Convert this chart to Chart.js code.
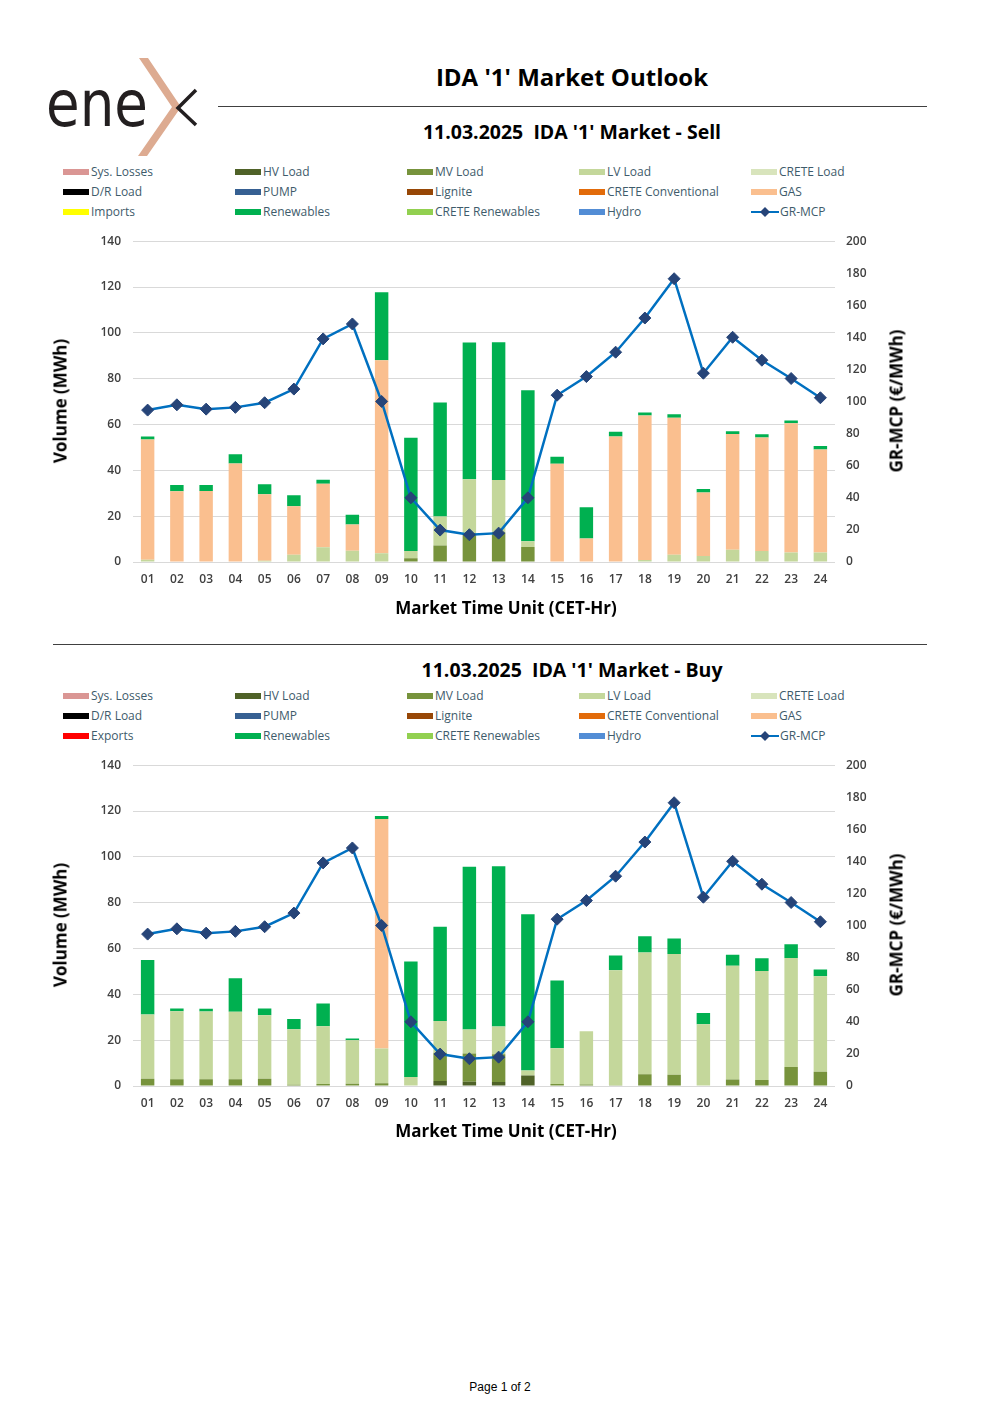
<!DOCTYPE html>
<html>
<head>
<meta charset="utf-8">
<script src="https://cdn.jsdelivr.net/npm/chart.js@4.4.1/dist/chart.umd.min.js"></script>
<style>
  body { margin: 0; width: 1000px; height: 1415px; background: #fff; position: relative; font-family: "Open Sans", "DejaVu Sans", sans-serif; }
  .abs { position: absolute; }
  .title { font-weight: bold; color: #000; white-space: nowrap; transform: translate(-50%, -50%); }
  .rule { position: absolute; height: 0; border-top: 1.5px solid #404040; }
  .ytitle { position: absolute; font-weight: bold; font-size: 17px; white-space: nowrap; transform: translate(-50%, -50%) rotate(-90deg); }
  .leg { position: absolute; font-size: 12px; color: #3E5B6B; white-space: nowrap; line-height: 14px; }
  .sw { display: inline-block; width: 26px; height: 6px; vertical-align: middle; margin-right: 2px; margin-top: -2px; }
  canvas { position: absolute; }
</style>
</head>
<body>

<svg class="abs" style="left:0;top:0" width="220" height="170">
  <text x="46" y="126" font-family="DejaVu Sans ExtraLight, DejaVu Sans" font-size="64" fill="#231F20" textLength="102" lengthAdjust="spacingAndGlyphs">ene</text>
  <polygon points="139,58 148,58 181,107 147,156 138,156 172,107" fill="#DDAB91"/>
  <polyline points="196,90 178,108 196,125" fill="none" stroke="#231F20" stroke-width="3.5"/>
</svg>

<div class="abs title" style="left:572px;top:76px;font-size:24px">IDA '1' Market Outlook</div>
<div class="rule" style="left:218px;top:106px;width:709px"></div>
<div class="abs title" style="left:572px;top:131px;font-size:19.5px">11.03.2025&nbsp; IDA '1' Market - Sell</div>

<div id="legSell"></div>
<canvas id="sellChart" width="880" height="398" style="left:40px;top:222px"></canvas>
<div class="ytitle" style="left:60px;top:401px">Volume (MWh)</div>
<div class="ytitle" style="left:896px;top:401px">GR-MCP (€/MWh)</div>
<div class="abs title" style="left:506px;top:607px;font-size:17px">Market Time Unit (CET-Hr)</div>

<div class="rule" style="left:53px;top:644px;width:874px"></div>

<div class="abs title" style="left:572px;top:669px;font-size:19.5px">11.03.2025&nbsp; IDA '1' Market - Buy</div>
<div id="legBuy"></div>
<canvas id="buyChart" width="880" height="398" style="left:40px;top:746px"></canvas>
<div class="ytitle" style="left:60px;top:925px">Volume (MWh)</div>
<div class="ytitle" style="left:896px;top:925px">GR-MCP (€/MWh)</div>
<div class="abs title" style="left:506px;top:1130px;font-size:17px">Market Time Unit (CET-Hr)</div>

<div class="abs" style="left:500px;top:1387px;transform:translate(-50%,-50%);font-family:'Liberation Sans',Arial,sans-serif;font-size:12px">Page 1 of 2</div>

<script>
var hours = ['01','02','03','04','05','06','07','08','09','10','11','12','13','14','15','16','17','18','19','20','21','22','23','24'];

// GR-MCP (€/MWh), same for both charts
var mcp = [94.7, 98.0, 95.3, 96.4, 99.3, 107.8, 139.1, 148.4, 100.1, 40.0, 19.9, 17.0, 18.0, 40.0, 104.0, 115.6, 130.8, 152.1, 176.6, 117.7, 140.1, 125.8, 114.4, 102.4];

// Sell side (MWh)
var sellHV  = [0,0,0,0,0,0,0,0,0,0,0,0,0,0,0,0,0,0,0,0,0,0,0,0];
var sellMV  = [0,0,0,0,0,0,0,0,0,1.6,7.2,12.5,13.0,6.5,0,0,0,0,0,0,0,0,0,0];
var sellLV  = [1.0,0,0,0,0.6,3.2,6.4,4.9,3.8,3.2,12.7,23.6,22.8,2.6,0,0,0,0.9,3.2,2.6,5.4,4.8,4.1,4.1];
var sellGAS = [52.5,30.9,31.0,43.0,29.0,21.1,27.7,11.5,84.3,0,0,0,0,0,42.9,10.3,54.8,63.0,59.7,27.7,50.5,49.5,56.5,45.0];
var sellRES = [1.3,2.7,2.6,4.0,4.3,4.8,1.8,4.2,29.6,49.4,49.7,59.7,60.1,65.8,3.0,13.6,2.0,1.3,1.6,1.6,1.2,1.4,1.1,1.5];

// Buy side (MWh)
var buyHV  = [0,0,0,0,0,0,0,0,0,0,2.2,1.9,1.7,4.6,0,0,0,0,0,0,0,0,0,0];
var buyMV  = [3.2,3.0,3.0,3.0,3.2,0.6,0.9,1.0,1.2,0,12.3,12.3,12.2,0,0.9,0.7,0.3,5.1,4.9,0,2.8,2.6,8.3,6.2];
var buyLV  = [28.0,29.6,29.5,29.4,27.7,24.2,25.2,19.0,15.2,3.9,13.9,10.5,12.1,2.2,15.6,23.2,50.2,53.2,52.7,27.0,49.7,47.6,47.6,41.7];
var buyGAS = [0,0,0,0,0,0,0,0,100.1,0,0,0,0,0,0,0,0,0,0,0,0,0,0,0];
var buyRES = [23.8,1.2,1.2,14.6,2.9,4.4,9.9,0.7,1.3,50.4,41.1,71.0,69.9,68.2,29.5,0,6.4,7.0,6.8,4.9,4.8,5.5,6.0,2.9];

var legendNames = ['Sys. Losses','HV Load','MV Load','LV Load','CRETE Load','D/R Load','PUMP','Lignite','CRETE Conventional','GAS','Imports','Renewables','CRETE Renewables','Hydro','GR-MCP'];
var legendColors = ['#DA9694','#4F6228','#77933C','#C4D79B','#D8E4BC','#000000','#366092','#974706','#E26B0A','#FABF8F','#FFFF00','#00B050','#92D050','#538DD5','#0070C0'];

var colHV = '#4F6228', colMV = '#77933C', colLV = '#C4D79B', colGAS = '#FABF8F', colRES = '#00B050';

function DrawLegend(divId, top, tradeName, tradeColor) {
    var html = '';
    for (var i = 0; i < legendNames.length; i++) {
        var c = i % 5, r = Math.floor(i / 5);
        var name = legendNames[i], color = legendColors[i];
        if (i == 10) { name = tradeName; color = tradeColor; }
        var sw;
        if (name == 'GR-MCP') {
            sw = '<svg width="28" height="12" style="vertical-align:middle;margin-right:1px;margin-top:-2px"><line x1="0" y1="6" x2="28" y2="6" stroke="#0070C0" stroke-width="2"/><polygon points="14,1 19,6 14,11 9,6" fill="#264478"/></svg>';
        } else {
            sw = '<span class="sw" style="background:' + color + '"></span>';
        }
        html += '<div class="leg" style="left:' + (63 + 172 * c) + 'px;top:' + (top + 20 * r - 7) + 'px">' + sw + name + '</div>';
    }
    document.getElementById(divId).innerHTML = html;
}

DrawLegend('legSell', 172, 'Imports', '#FFFF00');
DrawLegend('legBuy', 696, 'Exports', '#FF0000');

Chart.defaults.font.family = '"Open Sans", "DejaVu Sans", sans-serif';
Chart.defaults.font.size = 12;
Chart.defaults.font.weight = '600';
Chart.defaults.color = '#404040';

function barSet(label, data, color) {
    return { type: 'bar', label: label, data: data, backgroundColor: color, borderWidth: 0,
             stack: 's', yAxisID: 'y', order: 1, barPercentage: 0.46, categoryPercentage: 1.0 };
}

function DisplayGraph(canvasId, hv, mv, lv, gas, res) {
    var ctx = document.getElementById(canvasId).getContext('2d');
    var chart = new Chart(ctx, {
        data: {
            labels: hours,
            datasets: [
                { type: 'line', label: 'GR-MCP', data: mcp, yAxisID: 'y1', order: 0,
                  borderColor: '#0070C0', borderWidth: 2.5, tension: 0,
                  pointStyle: 'rectRot', pointRadius: 6, pointBackgroundColor: '#264478', pointBorderColor: '#264478', pointBorderWidth: 1 },
                barSet('HV Load', hv, colHV),
                barSet('MV Load', mv, colMV),
                barSet('LV Load', lv, colLV),
                barSet('GAS', gas, colGAS),
                barSet('Renewables', res, colRES)
            ]
        },
        options: {
            responsive: false,
            animation: false,
            layout: { padding: { top: 6, left: 0, right: 0, bottom: 0 } },
            plugins: { legend: { display: false }, tooltip: { enabled: false } },
            scales: {
                x: {
                    stacked: true,
                    grid: { display: false, drawTicks: false },
                    border: { display: false },
                    ticks: { padding: 10, maxRotation: 0 },
                    afterFit: function (s) { s.height = 58; }
                },
                y: {
                    stacked: true, min: 0, max: 140,
                    ticks: { stepSize: 20, padding: 12 },
                    grid: { color: '#D9D9D9', drawTicks: false },
                    border: { display: false },
                    afterFit: function (s) { s.width = 93; }
                },
                y1: {
                    position: 'right', min: 0, max: 200,
                    ticks: { stepSize: 20, padding: 11 },
                    grid: { display: false, drawTicks: false },
                    border: { display: false },
                    afterFit: function (s) { s.width = 85; }
                }
            }
        }
    });
}

DisplayGraph('sellChart', sellHV, sellMV, sellLV, sellGAS, sellRES);
DisplayGraph('buyChart', buyHV, buyMV, buyLV, buyGAS, buyRES);
</script>
</body>
</html>
